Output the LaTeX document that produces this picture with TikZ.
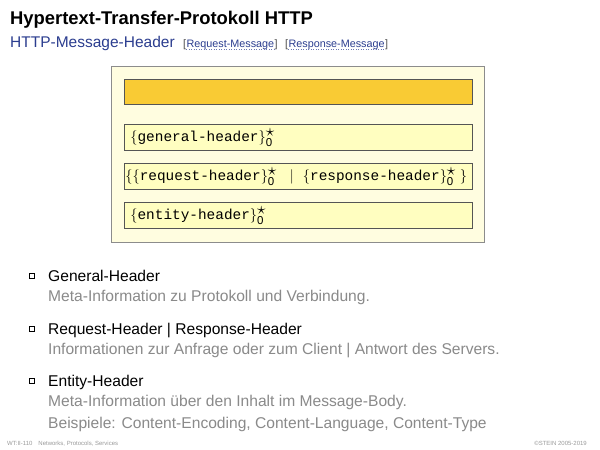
\documentclass[tikz,border=0pt]{standalone}
\usepackage{fontspec}
\setmainfont{Liberation Sans}
\setmonofont{Liberation Mono}
\usetikzlibrary{positioning,shadows}

\definecolor{slideblue}{HTML}{2B3D8F}
\definecolor{slidegray}{HTML}{8A8A8A}
\definecolor{footgray}{HTML}{9A9A9A}
\definecolor{framefill}{HTML}{FFFDE0}
\definecolor{framegray}{HTML}{8C8C8C}
\definecolor{hdrorange}{HTML}{F9CB34}
\definecolor{hdrfill}{HTML}{FFFEC0}
\definecolor{hdrline}{HTML}{555555}

\newcommand{\hdrtt}[1]{\fontsize{14.4}{16}\selectfont\mbox{#1}}
\newcommand{\zerostar}{^{\mbox{\fontsize{19}{19}\selectfont$\star$}}_{\mbox{\fontsize{11.5}{11.5}\selectfont 0}}}

\tikzset{
  txt/.style={inner sep=0pt,anchor=base west},
  hdrbox/.style={draw=hdrline,fill=hdrfill,line width=0.8pt,anchor=north west,
    minimum height=26pt,text width=336pt,inner xsep=6pt,inner ysep=0pt,align=left},
  sqbullet/.style={draw=black,fill=white,line width=0.5pt,minimum size=5pt,inner sep=0pt,
    drop shadow={shadow xshift=0.9pt,shadow yshift=-0.9pt,fill=black,opacity=1}},
  itemhead/.style={txt,font=\fontsize{15.6}{18}\selectfont},
  itemtext/.style={txt,font=\fontsize{15.6}{18}\selectfont,text=slidegray},
  lnk/.style={txt,font=\fontsize{10.8}{12}\selectfont,text=slideblue},
  lnkbr/.style={txt,font=\fontsize{10.8}{12}\selectfont,text=black!70},
  linkline/.style={slideblue!70,dotted,line width=0.5pt}
}

\begin{document}
\begin{tikzpicture}[x=1pt,y=-1pt]
  \useasboundingbox[fill=white] (0,0) rectangle (600,450);

  % title lines
  \node[txt,font=\fontsize{18.4}{20}\selectfont\bfseries] (title) at (10,24)
    {Hypertext-Transfer-Protokoll HTTP};
  \node[txt,font=\fontsize{15.5}{18}\selectfont,text=slideblue] (subtitle) at (10,47)
    {HTTP-Message-Header};

  \node[lnkbr] (rqo) at (183,47) {[};
  \node[lnk] (rqm) at (rqo.base east) {Request-Message};
  \node[lnkbr] (rqc) at (rqm.base east) {]};
  \node[lnkbr] (rso) at (285,47) {[};
  \node[lnk] (rsm) at (rso.base east) {Response-Message};
  \node[lnkbr] (rsc) at (rsm.base east) {]};
  \draw[linkline] ([yshift=-2pt]rqm.base west) -- ([yshift=-2pt]rqm.base east);
  \draw[linkline] ([yshift=-2pt]rsm.base west) -- ([yshift=-2pt]rsm.base east);

  % message header frame
  \node[draw=framegray,fill=framefill,line width=1pt,anchor=north west,
    minimum width=373pt,minimum height=176pt] (frame) at (111,66) {};
  \node[hdrbox,fill=hdrorange,minimum height=25pt] (start) at (124,79) {};
  \node[hdrbox] (gen) at (124,124)
    {\hdrtt{$\{$\texttt{general-header}$\}\zerostar$}};
  \node[hdrbox,inner xsep=1pt,text width=346pt] (reqres) at (124,163)
    {\hdrtt{$\{\{$\texttt{request-header}$\}\zerostar\hspace{9pt}\mid\hspace{5pt}\{$\texttt{response-header}$\}\zerostar\hspace{4pt}\}$}};
  \node[hdrbox] (ent) at (124,202)
    {\hdrtt{$\{$\texttt{entity-header}$\}\zerostar$}};

  % explanations
  \node[sqbullet] (b1) at (32,276) {};
  \node[itemhead] (gh) at (48,281.5) {General-Header};
  \node[itemtext] (ghtxt) at (48,301.5) {Meta-Information zu Protokoll und Verbindung.};

  \node[sqbullet] (b2) at (32,329) {};
  \node[itemhead] (rh) at (48,334.5) {Request-Header | Response-Header};
  \node[itemtext] (rhtxt) at (48,354.5)
    {Informationen zur Anfrage oder zum Client | Antwort des Servers.};

  \node[sqbullet] (b3) at (32,381) {};
  \node[itemhead] (eh) at (48,386.5) {Entity-Header};
  \node[itemtext] (ehtxt) at (48,406.5) {Meta-Information über den Inhalt im Message-Body.};
  \node[itemtext] (ehtxt2) at (48,428) {Beispiele: Content-Encoding, Content-Language, Content-Type};

  % footer
  \node[txt,font=\fontsize{6}{7}\selectfont,text=footgray] (footl) at (7,445)
    {WT:II-110\hspace{6pt}Networks, Protocols, Services};
  \node[txt,anchor=base east,font=\fontsize{6}{7}\selectfont,text=footgray] (footr) at (587,445)
    {©STEIN 2005-2019};
\end{tikzpicture}
\end{document}
